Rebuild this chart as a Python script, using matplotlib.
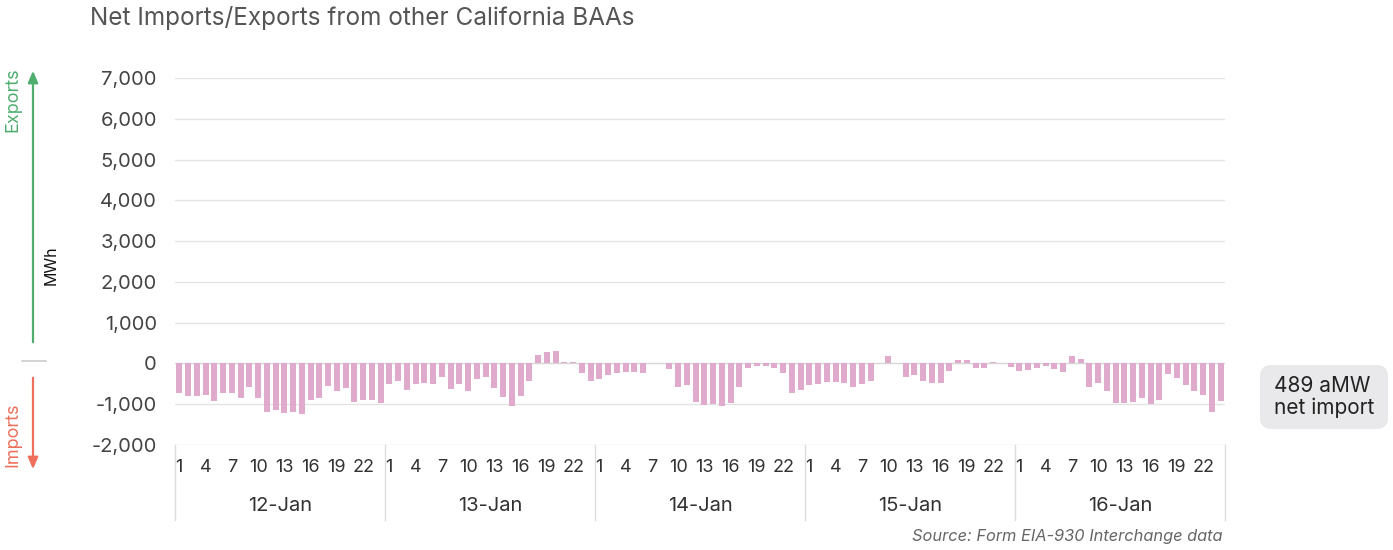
import matplotlib
matplotlib.use("Agg")
import matplotlib.pyplot as plt
from matplotlib.patches import FancyBboxPatch
import matplotlib.transforms as mtransforms

plt.rcParams['font.family'] = ['Inter', 'DejaVu Sans']

days = ["12-Jan", "13-Jan", "14-Jan", "15-Jan", "16-Jan"]
hour_ticks = [1, 4, 7, 10, 13, 16, 19, 22]

jan12 = [-715, -790, -805, -770, -920, -725, -725, -840, -575, -855, -1185, -1140,
         -1210, -1200, -1235, -900, -845, -545, -675, -610, -935, -895, -895, -960]
jan13 = [-505, -440, -650, -510, -480, -495, -340, -635, -505, -665, -375, -335,
         -595, -820, -1040, -795, -430, 210, 290, 310, 40, 25, -245, -425]
jan14 = [-380, -295, -235, -205, -220, -235, 0, 0, -130, -585, -520, -950,
         -1025, -990, -1040, -975, -577, -105, -65, -65, -100, -230, -715, -660]
jan15 = [-530, -505, -465, -450, -470, -570, -510, -425, 0, 180, 0, -340,
         -285, -425, -490, -470, -185, 90, 75, -100, -100, 30, 0, -80]
jan16 = [-185, -170, -105, -55, -140, -220, 185, 105, -585, -470, -665, -965,
         -975, -945, -845, -990, -895, -260, -350, -530, -665, -780, -1180, -920]

values = jan12 + jan13 + jan14 + jan15 + jan16
yticks = [-2000, -1000, 0, 1000, 2000, 3000, 4000, 5000, 6000, 7000]

W, H = 1393, 550
fig = plt.figure(figsize=(W / 100, H / 100), dpi=100)
ax = fig.add_axes([175 / W, 1 - 445 / H, 1050 / W, (445 - 78) / H])

x = list(range(len(values)))
ax.bar(x, values, width=0.68, color="#dfaacb", zorder=3)

ax.set_xlim(-0.5, len(values) - 0.5)
ax.set_ylim(-2000, 7000)
ax.set_yticks(yticks)
ax.set_yticklabels([f"{v:,}" for v in yticks], fontsize=14.5, color="#444444")
ax.tick_params(axis='y', length=0, pad=13)
for v in yticks:
    ax.axhline(v, color="#e4e4e4" if v != 0 else "#d6d6d6", lw=1.0, zorder=1)
for s in ax.spines.values():
    s.set_visible(False)

# hour ticks
tick_pos, tick_lab = [], []
for d in range(len(days)):
    for h in hour_ticks:
        tick_pos.append(d * 24 + h - 1)
        tick_lab.append(str(h))
ax.set_xticks(tick_pos)
ax.set_xticklabels(tick_lab, fontsize=13, color="#333333")
ax.tick_params(axis='x', length=0, pad=10)

trans = mtransforms.blended_transform_factory(ax.transData, ax.transAxes)
def ay(py):
    return (445 - py) / (445 - 78)

for d in range(len(days) + 1):
    xs = d * 24 - 0.5
    ax.plot([xs, xs], [ay(445), ay(520)], transform=trans, color="#dddddd",
            lw=1.0, clip_on=False)
for d, name in enumerate(days):
    ax.text(d * 24 + 11.5, ay(506), name, transform=trans, ha="center",
            va="center", fontsize=14.5, color="#333333")

# title
fig.text(90 / W, 1 - 18 / H, "Net Imports/Exports from other California BAAs",
         fontsize=17.5, color="#555555", ha="left", va="center")

# source
fig.text(1222 / W, 1 - 537 / H, "Source: Form EIA-930 Interchange data",
         fontsize=11.8, color="#666666", style="italic", ha="right", va="center")

# left arrows
ax.annotate("", xy=(33, H - 68), xytext=(33, H - 345), xycoords="figure pixels",
            textcoords="figure pixels",
            arrowprops=dict(arrowstyle="-|>,head_length=0.7,head_width=0.3",
                            color="#4fae6f", lw=1.6))
ax.annotate("", xy=(33, H - 472), xytext=(33, H - 375), xycoords="figure pixels",
            textcoords="figure pixels",
            arrowprops=dict(arrowstyle="-|>,head_length=0.7,head_width=0.3",
                            color="#ee6f5b", lw=1.6))
fig.text(13 / W, 1 - 100 / H, "Exports", rotation=90, color="#4fae6f",
         fontsize=13, ha="center", va="center")
fig.text(13 / W, 1 - 435 / H, "Imports", rotation=90, color="#ee6f5b",
         fontsize=13, ha="center", va="center")
fig.text(51 / W, 1 - 265 / H, "MWh", rotation=90, color="#111111",
         fontsize=11.5, ha="center", va="center")
fig.add_artist(plt.Line2D([22 / W, 46 / W], [1 - 361 / H, 1 - 361 / H],
                          color="#cccccc", lw=1.2))

# right box
box = FancyBboxPatch((1260 / W, 1 - 429 / H), 128 / W, 64 / H,
                     boxstyle="round,pad=0,rounding_size=0.008",
                     transform=fig.transFigure, facecolor="#e9e9eb",
                     edgecolor="none", mutation_aspect=W / H)
fig.add_artist(box)
fig.text(1274 / W, 1 - 397 / H, "489 aMW\nnet import", fontsize=15,
         color="#222222", ha="left", va="center", linespacing=1.1)

fig.savefig("out.png", dpi=100)
